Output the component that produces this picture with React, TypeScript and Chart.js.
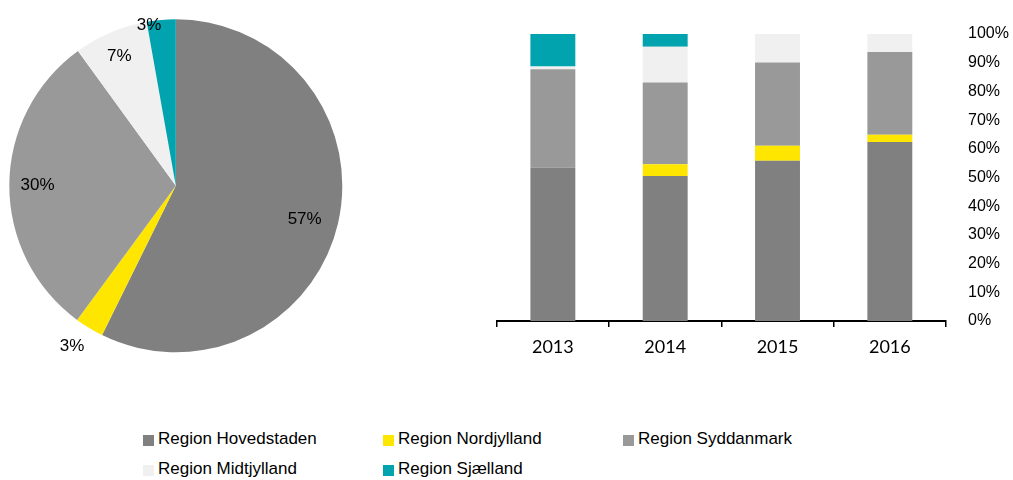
import React, { useEffect, useRef } from "react";
import { Chart, registerables } from "chart.js";

Chart.register(...registerables);

// ---------- data ----------
const regions = [
  "Region Hovedstaden",
  "Region Nordjylland",
  "Region Syddanmark",
  "Region Midtjylland",
  "Region Sjælland",
];
const regionColors = ["#808080", "#FFE600", "#999999", "#F0F0F0", "#00A3AE"];

// pie (share, %)
const pieValues = [57.3, 2.8, 29.9, 7.2, 2.8];

// stacked bars (share per year, %)
const years = ["2013", "2014", "2015", "2016"];
const hovedstaden = [53.4, 50.5, 55.8, 62.4];
const nordjylland = [0, 4.1, 5.3, 2.5];
const syddanmark = [34.3, 28.5, 29.0, 28.8];
const midtjylland = [1.0, 12.5, 9.9, 6.3];
const sjaelland = [11.3, 4.4, 0, 0];
const barSeries = [hovedstaden, nordjylland, syddanmark, midtjylland, sjaelland];

// ---------- styles ----------
const SANS = "'Liberation Sans', Arial, sans-serif";
const labelRadiusFactor = [0.8, 1.15, 0.83, 0.85, 0.98];
const labelAngleShiftDeg = [1.5, 1.5, 0, -0.5, -4.4];

const pieLabelPlugin = {
  id: "pieLabels",
  afterDatasetsDraw(chart: any) {
    const ctx = chart.ctx;
    const meta = chart.getDatasetMeta(0);
    const data = chart.data.datasets[0].data as number[];
    const total = data.reduce((a, b) => a + b, 0);
    ctx.save();
    ctx.font = `17px ${SANS}`;
    ctx.fillStyle = "#000";
    ctx.textAlign = "center";
    ctx.textBaseline = "middle";
    meta.data.forEach((arc: any, i: number) => {
      const { x, y, startAngle, endAngle, outerRadius } = arc.getProps(
        ["x", "y", "startAngle", "endAngle", "outerRadius"],
        true
      );
      const mid = (startAngle + endAngle) / 2 + (labelAngleShiftDeg[i] * Math.PI) / 180;
      const r = outerRadius * labelRadiusFactor[i];
      const txt = Math.round((data[i] / total) * 100) + "%";
      ctx.fillText(txt, x + Math.cos(mid) * r, y + Math.sin(mid) * r);
    });
    ctx.restore();
  },
};

function PieChart() {
  const ref = useRef<HTMLCanvasElement>(null);
  useEffect(() => {
    const chart = new Chart(ref.current!, {
      type: "pie",
      data: {
        labels: regions,
        datasets: [
          {
            data: pieValues,
            backgroundColor: regionColors,
            borderWidth: 0,
            hoverOffset: 0,
            offset: 0,
          } as any,
        ],
      },
      options: {
        animation: false,
        responsive: false,
        events: [],
        layout: { padding: { left: 9.3, top: 19.3, right: 17.7, bottom: 19.7 } },
        plugins: { legend: { display: false }, tooltip: { enabled: false } },
      },
      plugins: [pieLabelPlugin],
    });
    return () => chart.destroy();
  }, []);
  return (
    <canvas
      ref={ref}
      width={360}
      height={372}
      style={{ position: "absolute", left: 0, top: 0, width: 360, height: 372 }}
    />
  );
}

function BarChart() {
  const ref = useRef<HTMLCanvasElement>(null);
  useEffect(() => {
    const chart = new Chart(ref.current!, {
      type: "bar",
      data: {
        labels: years,
        datasets: barSeries.map((s, i) => ({
          label: regions[i],
          data: s,
          backgroundColor: regionColors[i],
          borderWidth: 0,
          barPercentage: 0.4,
          categoryPercentage: 1,
        })),
      },
      options: {
        animation: false,
        responsive: false,
        events: [],
        layout: { padding: { left: 16.7, top: 34, right: 0, bottom: 0 } },
        plugins: { legend: { display: false }, tooltip: { enabled: false } },
        scales: {
          x: {
            stacked: true,
            offset: true,
            grid: {
              display: true,
              drawOnChartArea: false,
              drawTicks: true,
              tickLength: 6,
              color: "#000",
              lineWidth: 1.5,
              offset: true,
            },
            border: { display: true, color: "#000", width: 2 },
            ticks: {
              color: "#000",
              font: { family: "Lato, 'Open Sans', sans-serif", size: 18 },
              padding: 9,
              maxRotation: 0,
            },
            afterFit: (scale: any) => {
              scale.height = 40;
            },
          },
          y: {
            stacked: true,
            position: "right",
            min: 0,
            max: 100,
            grid: { display: false, drawTicks: false, tickLength: 0 },
            border: { display: false },
            ticks: {
              stepSize: 10,
              color: "#000",
              font: { family: SANS, size: 16 },
              padding: 22,
              callback: (v: any) => v + "%",
            },
            afterFit: (scale: any) => {
              scale.width = 67;
            },
          },
        },
      },
    });
    return () => chart.destroy();
  }, []);
  return (
    <canvas
      ref={ref}
      width={533}
      height={361}
      style={{ position: "absolute", left: 480, top: 0, width: 533, height: 361 }}
    />
  );
}

function Legend() {
  return (
    <>
      {regions.map((name, i) => (
        <div
          key={name}
          style={{
            position: "absolute",
            left: 143 + (i % 3) * 240,
            top: 424 + Math.floor(i / 3) * 30,
            height: 30,
            lineHeight: "30px",
            fontFamily: SANS,
            fontSize: 17,
            color: "#000",
            whiteSpace: "nowrap",
          }}
        >
          <span
            style={{
              position: "absolute",
              left: 0,
              top: 11,
              width: 11,
              height: 11,
              background: regionColors[i],
            }}
          />
          <span style={{ position: "absolute", left: 15, top: 0 }}>{name}</span>
        </div>
      ))}
    </>
  );
}

export default function App() {
  return (
    <div
      style={{
        position: "fixed",
        left: 0,
        top: 0,
        width: 1013,
        height: 480,
        background: "#fff",
        overflow: "hidden",
      }}
    >
      <PieChart />
      <BarChart />
      <Legend />
    </div>
  );
}
